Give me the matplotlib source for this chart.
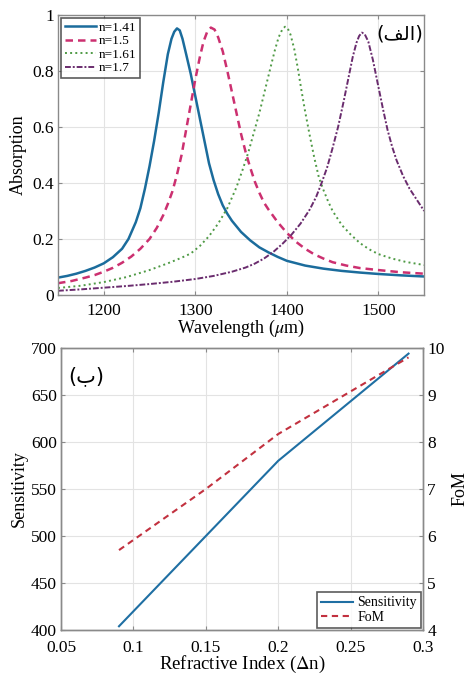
import matplotlib.pyplot as plt
import numpy as np

plt.rcParams['font.family'] = ['Liberation Serif', 'DejaVu Sans']
plt.rcParams['mathtext.fontset'] = 'stix'

# absorption spectra (wavelength, absorption)
wl_141 = [1150, 1160, 1170, 1180, 1190, 1200, 1210, 1220, 1227, 1235, 1240, 1245, 1250, 1255,
          1260, 1265, 1270, 1274, 1277, 1280, 1283, 1286, 1290, 1295, 1300, 1305, 1310, 1315,
          1320, 1325, 1330, 1335, 1340, 1345, 1350, 1360, 1370, 1380, 1390, 1400, 1420, 1440,
          1460, 1480, 1500, 1525, 1550]
ab_141 = [0.062, 0.068, 0.076, 0.086, 0.098, 0.113, 0.135, 0.165, 0.20, 0.26, 0.31, 0.38, 0.46, 0.55,
          0.65, 0.76, 0.86, 0.915, 0.94, 0.952, 0.945, 0.915, 0.86, 0.79, 0.71, 0.63, 0.55, 0.47,
          0.41, 0.36, 0.32, 0.29, 0.265, 0.245, 0.225, 0.195, 0.17, 0.152, 0.136, 0.122, 0.105, 0.094,
          0.086, 0.08, 0.075, 0.07, 0.066]

wl_150 = [1150, 1165, 1180, 1190, 1200, 1210, 1220, 1230, 1240, 1250, 1258, 1265, 1270, 1275,
          1280, 1285, 1290, 1295, 1300, 1305, 1309, 1313, 1317, 1321, 1325, 1330, 1335, 1340,
          1345, 1350, 1355, 1360, 1365, 1370, 1375, 1380, 1390, 1400, 1410, 1420, 1430, 1440,
          1450, 1465, 1480, 1500, 1525, 1550]
ab_150 = [0.042, 0.05, 0.062, 0.071, 0.083, 0.097, 0.115, 0.137, 0.165, 0.20, 0.24, 0.285, 0.325, 0.37,
          0.43, 0.50, 0.59, 0.68, 0.77, 0.85, 0.905, 0.94, 0.955, 0.948, 0.92, 0.87, 0.80, 0.725,
          0.65, 0.575, 0.51, 0.455, 0.405, 0.365, 0.33, 0.305, 0.26, 0.222, 0.19, 0.165, 0.145, 0.13,
          0.117, 0.105, 0.096, 0.089, 0.081, 0.076]

wl_161 = [1150, 1175, 1200, 1225, 1250, 1270, 1285, 1295, 1305, 1315, 1325, 1335, 1345, 1352,
          1358, 1364, 1370, 1376, 1382, 1387, 1391, 1395, 1398, 1401, 1404, 1408, 1412, 1416,
          1420, 1425, 1430, 1435, 1440, 1445, 1450, 1460, 1470, 1480, 1490, 1500, 1515, 1530, 1550]
ab_161 = [0.025, 0.033, 0.046, 0.064, 0.089, 0.113, 0.133, 0.148, 0.175, 0.21, 0.255, 0.31, 0.385, 0.45,
          0.51, 0.58, 0.65, 0.73, 0.81, 0.875, 0.92, 0.948, 0.958, 0.952, 0.93, 0.88, 0.81, 0.73,
          0.655, 0.57, 0.49, 0.42, 0.375, 0.335, 0.30, 0.25, 0.215, 0.185, 0.163, 0.146, 0.13, 0.118, 0.107]

wl_170 = [1150, 1175, 1200, 1225, 1250, 1275, 1300, 1320, 1340, 1355, 1365, 1375, 1385, 1395,
          1405, 1415, 1425, 1432, 1438, 1444, 1450, 1456, 1462, 1467, 1472, 1476, 1479, 1482,
          1485, 1489, 1494, 1499, 1505, 1510, 1515, 1520, 1527, 1534, 1542, 1550]
ab_170 = [0.015, 0.02, 0.026, 0.032, 0.039, 0.047, 0.057, 0.068, 0.083, 0.098, 0.112, 0.13, 0.153, 0.182,
          0.215, 0.255, 0.305, 0.35, 0.40, 0.455, 0.525, 0.60, 0.69, 0.77, 0.85, 0.90, 0.925, 0.937,
          0.932, 0.905, 0.84, 0.76, 0.665, 0.59, 0.53, 0.48, 0.425, 0.38, 0.34, 0.30]

# sensitivity / FoM vs delta n
dn = [0.09, 0.15, 0.2, 0.29]
sens = [404, 500, 580, 694]
fom = [5.7, 7.0, 8.17, 9.8]

label_a = '(\uFED2\uFEDF\uFE8D)'   # (الف) in presentation forms
label_b = '(\uFE8F)'               # (ب)

fig = plt.figure(figsize=(4.7, 6.77), dpi=100)
ax1 = fig.add_axes([0.1234, 0.5643, 0.779, 0.4136])
ax2 = fig.add_axes([0.130, 0.0694, 0.770, 0.4166])

spine_c = '#8a8a8a'
grid_c = '#e3e3e3'

ax1.plot(wl_141, ab_141, '-', color='#1b6c9c', lw=1.8, label='n=1.41')
ax1.plot(wl_150, ab_150, '--', color='#cc3070', lw=1.8, dashes=(3, 2), label='n=1.5')
ax1.plot(wl_161, ab_161, ':', color='#4f9a45', lw=1.4, label='n=1.61')
ax1.plot(wl_170, ab_170, '-.', color='#6a2c6e', lw=1.4, dashes=(3, 1, 1, 1), label='n=1.7')
ax1.set_xlim(1150, 1550)
ax1.set_ylim(0, 1)
ax1.set_xticks([1200, 1300, 1400, 1500])
ax1.set_yticks([0, 0.2, 0.4, 0.6, 0.8, 1])
ax1.set_yticklabels(['0', '0.2', '0.4', '0.6', '0.8', '1'])
ax1.set_xlabel(r'Wavelength ($\mu$m)', fontsize=13, labelpad=-1)
ax1.set_ylabel('Absorption', fontsize=13, labelpad=4)
leg1 = ax1.legend(loc='upper left', fontsize=9.5, frameon=True, fancybox=False,
                  borderpad=0.3, labelspacing=0.1, handlelength=2.4, handletextpad=0.2,
                  borderaxespad=0.2)
leg1.get_frame().set_edgecolor('#333333')
leg1.get_frame().set_linewidth(1.2)
ax1.text(0.997, 0.965, label_a, transform=ax1.transAxes, ha='right', va='top',
         fontsize=14, family='DejaVu Sans')

ax2.plot(dn, sens, '-', color='#1f6fa3', lw=1.5, label='Sensitivity')
ax2.set_xlim(0.05, 0.3)
ax2.set_ylim(400, 700)
ax2.set_xticks([0.05, 0.1, 0.15, 0.2, 0.25, 0.3])
ax2.set_xticklabels(['0.05', '0.1', '0.15', '0.2', '0.25', '0.3'])
ax2.set_yticks([400, 450, 500, 550, 600, 650, 700])
ax2.set_xlabel(r'Refractive Index ($\Delta$n)', fontsize=13.5, labelpad=-1)
ax2.set_ylabel('Sensitivity', fontsize=13, labelpad=2)
ax3 = ax2.twinx()
ax3.plot(dn, fom, '--', color='#c2313f', lw=1.5, dashes=(3, 2.2), label='FoM')
ax3.set_ylim(4, 10)
ax3.set_yticks([4, 5, 6, 7, 8, 9, 10])
ax3.set_ylabel('FoM', fontsize=13, labelpad=5)
ax2.text(0.02, 0.935, label_b, transform=ax2.transAxes, ha='left', va='top',
         fontsize=15, family='DejaVu Sans')

h1, l1 = ax2.get_legend_handles_labels()
h2, l2 = ax3.get_legend_handles_labels()
leg2 = ax3.legend(h1 + h2, l1 + l2, loc='lower right', fontsize=10, frameon=True,
                  fancybox=False, borderpad=0.3, labelspacing=0.1, handlelength=2.3,
                  handletextpad=0.3, borderaxespad=0.15)
leg2.get_frame().set_edgecolor('#333333')
leg2.get_frame().set_linewidth(1.2)

for ax in (ax1, ax2, ax3):
    for s in ax.spines.values():
        s.set_color(spine_c)
        s.set_linewidth(1.0)
    ax.tick_params(direction='in', length=3, color=spine_c, labelsize=12.5, pad=3)
ax1.tick_params(axis='x', pad=6)
ax2.tick_params(axis='x', pad=7)
ax1.tick_params(top=True, right=True)
ax2.tick_params(top=True)
for ax in (ax1, ax2):
    ax.grid(True, color=grid_c, lw=0.8)
    ax.set_axisbelow(True)

fig.savefig('out.png', dpi=100)
